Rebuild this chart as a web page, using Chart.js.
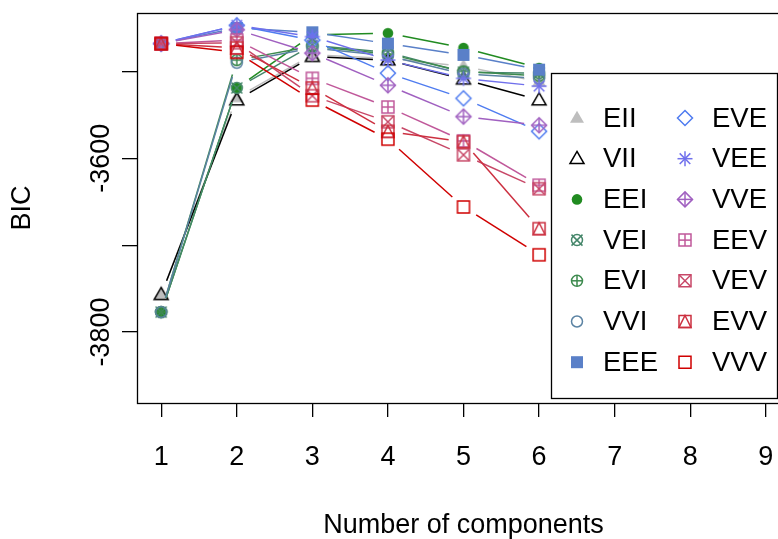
<!DOCTYPE html>
<html><head><meta charset="utf-8">
<script src="https://cdn.jsdelivr.net/npm/chart.js@4"></script>
<style>html,body{margin:0;padding:0;overflow:hidden;background:#fff;width:778px;height:539px}</style>
</head><body>
<div style="width:800px;height:539px"><canvas id="c" width="800" height="539"></canvas></div>
<script>
const components = [1, 2, 3, 4, 5, 6];
const xTicks = [1, 2, 3, 4, 5, 6, 7, 8, 9];
const yTicks = [-3800, -3700, -3600, -3500];
const yTickLabels = [-3800, -3600];
const models = ['EII','VII','EEI','VEI','EVI','VVI','EEE','EVE','VEE','VVE','EEV','VEV','EVV','VVV'];
const EII = [-3757, -3530, -3481, -3485, -3494, -3512];
const VII = [-3757, -3533, -3483, -3487, -3509, -3533];
const EEI = [-3777, -3519, -3458, -3456, -3473, -3496];
const VEI = [-3777, -3519, -3470, -3478, -3501, -3502];
const EVI = [-3777, -3487, -3471, -3480, -3500, -3505];
const VVI = [-3777, -3490, -3473, -3482, -3503, -3508];
const EEE = [-3468, -3450, -3455, -3468, -3481, -3498];
const EVE = [-3468, -3447, -3464, -3502, -3531, -3569];
const VEE = [-3468, -3447, -3460, -3487, -3508, -3517];
const VVE = [-3468, -3452, -3479, -3516, -3552, -3562];
const EEV = [-3468, -3464, -3508, -3541, -3580, -3631];
const VEV = [-3468, -3467, -3528, -3558, -3596, -3635];
const EVV = [-3468, -3473, -3519, -3569, -3581, -3681];
const VVV = [-3468, -3478, -3533, -3578, -3656, -3711];
const seriesValues = [EII, VII, EEI, VEI, EVI, VVI, EEE, EVE, VEE, VVE, EEV, VEV, EVV, VVV];

const colors = ['#bebebe','#000000','#218b21','#45866a','#3d8a4e','#5b83a3','#5a80c8','#4f7cf0','#7070ec','#a060c0','#c0589a','#c84868','#cc3040','#d00000'];
const symbols = [17, 2, 16, 13, 10, 1, 15, 5, 8, 9, 12, 7, 14, 0];
const FONT = "'Liberation Sans', Arial, sans-serif";

function drawSym(ctx, pch, col, x, y) {
  ctx.save();
  ctx.strokeStyle = col; ctx.fillStyle = col; ctx.lineWidth = 1.5;
  const s = 6, r = 5.5, d = 7.5;
  const line = (x1, y1, x2, y2) => { ctx.beginPath(); ctx.moveTo(x1, y1); ctx.lineTo(x2, y2); ctx.stroke(); };
  const tri = () => { ctx.beginPath(); ctx.moveTo(x, y - 7.3); ctx.lineTo(x + 7, y + 4.8); ctx.lineTo(x - 7, y + 4.8); ctx.closePath(); };
  const circ = (rr) => { ctx.beginPath(); ctx.arc(x, y, rr, 0, Math.PI * 2); };
  const sq = () => { ctx.beginPath(); ctx.rect(x - s, y - s, 2 * s, 2 * s); };
  const dia = () => { ctx.beginPath(); ctx.moveTo(x, y - d); ctx.lineTo(x + d, y); ctx.lineTo(x, y + d); ctx.lineTo(x - d, y); ctx.closePath(); };
  switch (pch) {
    case 17: tri(); ctx.fill(); break;
    case 2: tri(); ctx.stroke(); break;
    case 16: circ(5.3); ctx.fill(); break;
    case 13: circ(r); ctx.stroke(); line(x - r, y - r, x + r, y + r); line(x - r, y + r, x + r, y - r); break;
    case 10: circ(r); ctx.stroke(); line(x - r, y, x + r, y); line(x, y - r, x, y + r); break;
    case 1: circ(r); ctx.stroke(); break;
    case 15: ctx.fillRect(x - s, y - s, 2 * s, 2 * s); break;
    case 5: dia(); ctx.stroke(); break;
    case 8: { const a = 7.5, b = 5.3; line(x - a, y, x + a, y); line(x, y - a, x, y + a); line(x - b, y - b, x + b, y + b); line(x - b, y + b, x + b, y - b); break; }
    case 9: dia(); ctx.stroke(); line(x - d, y, x + d, y); line(x, y - d, x, y + d); break;
    case 12: sq(); ctx.stroke(); line(x - s, y, x + s, y); line(x, y - s, x, y + s); break;
    case 7: sq(); ctx.stroke(); line(x - s, y - s, x + s, y + s); line(x - s, y + s, x + s, y - s); break;
    case 14: sq(); ctx.stroke(); ctx.beginPath(); ctx.moveTo(x, y - s); ctx.lineTo(x + s, y + s); ctx.lineTo(x - s, y + s); ctx.closePath(); ctx.stroke(); break;
    case 0: sq(); ctx.stroke(); break;
  }
  ctx.restore();
}
function symCanvas(pch, col) {
  const c = document.createElement('canvas'); c.width = 22; c.height = 22;
  drawSym(c.getContext('2d'), pch, col, 11, 11);
  return c;
}

const datasets = models.map((m, i) => ({
  label: m,
  data: components.map((k, j) => ({ x: k, y: seriesValues[i][j] })),
  borderColor: colors[i],
  backgroundColor: colors[i],
  showLine: false,
  pointStyle: symCanvas(symbols[i], colors[i]),
  pointRadius: 8,
  order: models.length - 1 - i
}));

const gapLines = {
  id: 'gapLines',
  beforeDatasetDraw(chart, args) {
    const ctx = chart.ctx, pts = args.meta.data, ds = chart.data.datasets[args.index];
    const ca = chart.chartArea, gap = 15;
    ctx.save();
    ctx.beginPath(); ctx.rect(ca.left, ca.top, ca.right - ca.left, ca.bottom - ca.top); ctx.clip();
    ctx.strokeStyle = ds.borderColor; ctx.lineWidth = 1.5;
    for (let i = 1; i < pts.length; i++) {
      const a = pts[i - 1], b = pts[i];
      const dx = b.x - a.x, dy = b.y - a.y, len = Math.hypot(dx, dy);
      if (len <= 2 * gap) continue;
      const ux = dx / len, uy = dy / len;
      ctx.beginPath(); ctx.moveTo(a.x + ux * gap, a.y + uy * gap); ctx.lineTo(b.x - ux * gap, b.y - uy * gap); ctx.stroke();
    }
    ctx.restore();
  }
};

const frame = {
  id: 'frame',
  afterDraw(chart) {
    const ctx = chart.ctx, ca = chart.chartArea, ys = chart.scales.y;
    ctx.save();
    ctx.strokeStyle = '#000'; ctx.lineWidth = 1.3;
    ctx.strokeRect(ca.left + 0.5, ca.top + 0.5, ca.right - ca.left, ca.bottom - ca.top);
    ctx.fillStyle = '#000'; ctx.font = '27px ' + FONT; ctx.textAlign = 'center'; ctx.textBaseline = 'alphabetic';
    yTickLabels.forEach(v => {
      const py = ys.getPixelForValue(v);
      ctx.save(); ctx.translate(109, py); ctx.rotate(-Math.PI / 2); ctx.fillText(String(v), 0, 0); ctx.restore();
    });
    const lx = 551, ly = 73, lw = 226, lh = 325;
    ctx.fillStyle = '#fff'; ctx.fillRect(lx, ly, lw, lh);
    ctx.strokeStyle = '#000'; ctx.lineWidth = 1.3; ctx.strokeRect(lx + 0.5, ly + 0.5, lw, lh);
    ctx.font = '27.5px ' + FONT; ctx.textAlign = 'left'; ctx.textBaseline = 'middle'; ctx.fillStyle = '#000';
    models.forEach((m, i) => {
      const col = Math.floor(i / 7), row = i % 7;
      const y = 118 + row * 40.7;
      const sx = col === 0 ? 577 : 685, tx = col === 0 ? 603 : 712;
      drawSym(ctx, symbols[i], colors[i], sx, y);
      ctx.fillStyle = '#000';
      ctx.fillText(m, tx, y + 1);
    });
    ctx.restore();
  }
};

new Chart(document.getElementById('c'), {
  type: 'line',
  data: { datasets },
  plugins: [gapLines, frame],
  options: {
    responsive: false, animation: false, devicePixelRatio: 1,
    layout: { padding: { top: 13, right: 10, left: 0, bottom: 0 } },
    plugins: { legend: { display: false }, tooltip: { enabled: false } },
    scales: {
      x: {
        type: 'linear', min: 0.68, max: 9.32,
        afterBuildTicks: s => { s.ticks = xTicks.map(v => ({ value: v })); },
        afterFit: s => { s.height = 136; },
        grid: { drawOnChartArea: false, drawTicks: true, tickLength: 14, color: '#000', lineWidth: 1.3 },
        border: { display: false },
        ticks: { font: { family: FONT, size: 27 }, color: '#000', padding: 24, maxRotation: 0, autoSkip: false },
        title: { display: true, text: 'Number of components', font: { family: FONT, size: 27 }, color: '#000', padding: { top: 0, bottom: -3 } }
      },
      y: {
        type: 'linear', min: -3881.6, max: -3432.8,
        afterBuildTicks: s => { s.ticks = yTicks.map(v => ({ value: v })); },
        afterFit: s => { s.width = 137; },
        grid: { drawOnChartArea: false, drawTicks: true, tickLength: 15, color: '#000', lineWidth: 1.3 },
        border: { display: false },
        ticks: { display: false },
        title: { display: true, text: 'BIC', font: { family: FONT, size: 27 }, color: '#000', padding: { top: 6, bottom: 0 } }
      }
    }
  }
});
</script>
</body></html>
